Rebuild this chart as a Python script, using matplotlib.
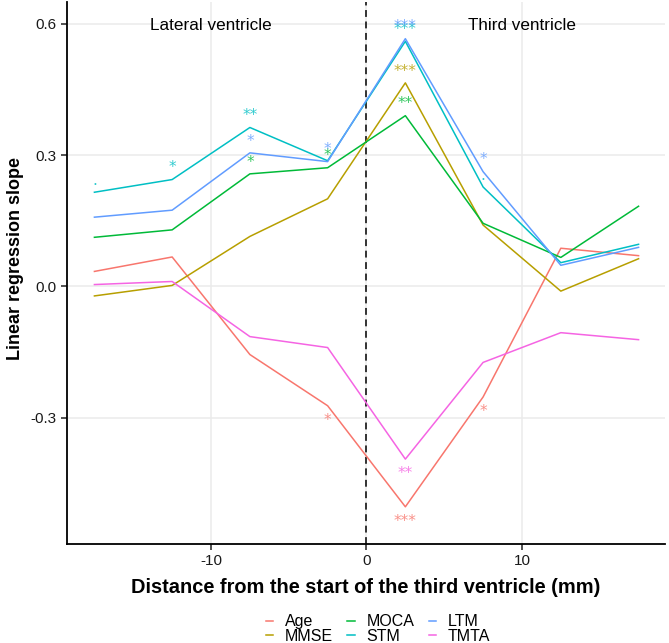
import matplotlib.pyplot as plt
import numpy as np

plt.rcParams['font.family'] = ['Liberation Sans', 'DejaVu Sans']
plt.rcParams['axes.unicode_minus'] = False

dist = [-17.5, -12.5, -7.5, -2.5, 2.5, 7.5, 12.5, 17.5]
age = [0.034, 0.067, -0.156, -0.273, -0.504, -0.253, 0.087, 0.070]
mmse = [-0.022, 0.002, 0.114, 0.200, 0.465, 0.140, -0.011, 0.063]
moca = [0.112, 0.129, 0.257, 0.271, 0.390, 0.144, 0.066, 0.183]
stm = [0.215, 0.244, 0.363, 0.287, 0.560, 0.227, 0.054, 0.096]
ltm = [0.158, 0.174, 0.305, 0.285, 0.566, 0.262, 0.048, 0.089]
tmta = [0.004, 0.011, -0.115, -0.140, -0.395, -0.174, -0.106, -0.122]

# significance labels per point
sig_age = ['', '', '', '*', '***', '*', '', '']
sig_mmse = ['', '', '', '', '***', '', '', '']
sig_moca = ['', '', '*', '*', '**', '', '', '']
sig_stm = ['.', '*', '**', '', '***', '.', '', '']
sig_ltm = ['', '', '*', '*', '***', '*', '', '']
sig_tmta = ['', '', '', '', '**', '', '', '']

names = ['Age', 'MMSE', 'MOCA', 'STM', 'LTM', 'TMTA']
colors = ['#F8766D', '#B79F00', '#00BA38', '#00BFC4', '#619CFF', '#F564E3']
series = [age, mmse, moca, stm, ltm, tmta]
sigs = [sig_age, sig_mmse, sig_moca, sig_stm, sig_ltm, sig_tmta]

fig = plt.figure(figsize=(6.69, 6.43), dpi=100)
ax = fig.add_axes([0.100, 0.154, 0.894, 0.843])

ax.grid(True, color='#EBEBEB', linewidth=1.1, zorder=0)
ax.set_axisbelow(True)

for name, col, vals, sg in zip(names, colors, series, sigs):
    ax.plot(dist, vals, color=col, linewidth=1.1, label=name, zorder=3)
    for x, v, s in zip(dist, vals, sg):
        if not s:
            continue
        off = 0.027 if v > 0 else -0.033
        ax.text(x, v + off, s, color=col, alpha=0.8, fontsize=11,
                ha='center', va='center', family='DejaVu Sans', zorder=4)

ax.axvline(0, color='black', linestyle=(0, (4.5, 3)), linewidth=1.1, zorder=2)

ax.text(-10, 0.595, 'Lateral ventricle', ha='center', va='center', fontsize=12.3)
ax.text(10, 0.595, 'Third ventricle', ha='center', va='center', fontsize=12.3)

ax.set_xlim(-19.27, 19.2)
ax.set_ylim(-0.589, 0.650)
ax.set_xticks([-10, 0, 10])
ax.set_yticks([-0.3, 0.0, 0.3, 0.6])
ax.set_yticklabels(['-0.3', '0.0', '0.3', '0.6'])
ax.tick_params(labelsize=11, colors='#222222', length=4, width=1.1, labelcolor='#1a1a1a')
for s in ['top', 'right']:
    ax.spines[s].set_visible(False)
for s in ['left', 'bottom']:
    ax.spines[s].set_linewidth(1.3)

ax.set_xlabel('Distance from the start of the third ventricle (mm)', fontsize=14.4,
              fontweight='bold', labelpad=7)
ax.set_ylabel('Linear regression slope', fontsize=13, fontweight='bold')
ax.yaxis.set_label_coords(-0.072, 0.526)

fig.legend(loc='center', bbox_to_anchor=(0.565, 0.0215), ncol=3, frameon=False,
           fontsize=11.5, handlelength=0.45, handletextpad=0.75, columnspacing=0.9,
           labelspacing=-0.02, borderaxespad=0.0, borderpad=0.0)

fig.savefig('out.png', dpi=100)
